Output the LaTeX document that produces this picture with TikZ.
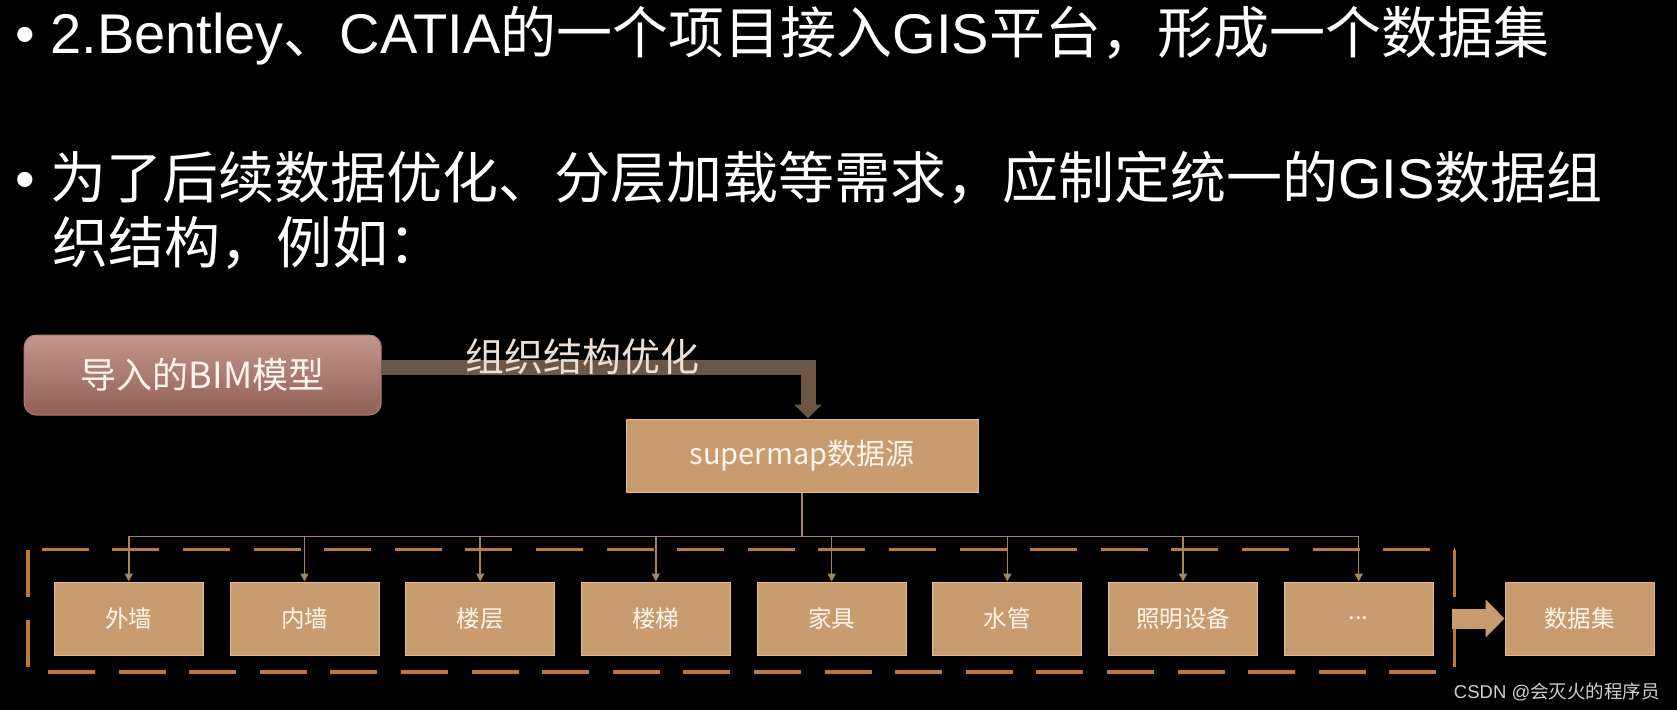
\documentclass[tikz,border=0pt]{standalone}
\usepackage{fontspec}
\setmainfont{Liberation Sans}
\newfontfamily\cjk{Noto Sans CJK SC}
\usetikzlibrary{arrows.meta}

\definecolor{bimtop}{HTML}{C4968B}
\definecolor{bimbot}{HTML}{905F56}
\definecolor{bimedge}{HTML}{B27D72}
\definecolor{boxtan}{HTML}{C99C6F}
\definecolor{tanedge}{HTML}{DCBD98}
\definecolor{dashorange}{HTML}{C0773A}
\definecolor{flowbrown}{HTML}{6D5643}
\definecolor{linktan}{HTML}{A9855F}
\definecolor{boxtext}{HTML}{FDF5EC}
\definecolor{optext}{HTML}{EDDFD6}
\definecolor{wmgray}{HTML}{CFCFCF}

\newcommand\moredots{...}

\tikzset{
  headline/.style={anchor=base west, text=white, inner sep=0pt, font=\fontsize{56}{60}\selectfont},
  tanbox/.style={draw=tanedge, line width=1pt, fill=boxtan, text=boxtext, inner sep=0pt,
    font=\cjk\fontsize{23.5}{28}\selectfont, minimum width=149pt, minimum height=73pt},
  link/.style={linktan, line width=1.5pt, -{Triangle[width=8pt,length=8pt]}},
  grpdash/.style={dashorange, line width=3.5pt, dash pattern=on 47pt off 23.6pt},
}

\begin{document}
\begin{tikzpicture}[x=1pt,y=-1pt]
\path[use as bounding box, fill=black] (0,0) rectangle (1677,710);

\node[headline] (l1) at (15,53) {• 2.Bentley{\cjk 、}CATIA{\cjk 的一个项目接入}GIS{\cjk 平台，形成一个数据集}};
\node[headline] (l2) at (15,198) {• {\cjk 为了后续数据优化、分层加载等需求，应制定统一的}GIS{\cjk 数据组}};
\node[headline] (l3) at (52,263) {\cjk 织结构，例如：};

\node[draw=bimedge, line width=1pt, rounded corners=12pt, top color=bimtop, bottom color=bimbot,
  minimum width=357pt, minimum height=80pt, text=boxtext, font=\cjk\fontsize{36}{40}\selectfont] (bim) at (202.7,375) {导入的BIM模型};
\node[tanbox, minimum width=352pt, font=\cjk\fontsize{29}{34}\selectfont] (sm) at (802,455.5) {supermap数据源};

\draw[flowbrown, line width=15pt, -{Triangle[width=27pt,length=14pt]}] ([yshift=7.5pt]bim.east) -| ([xshift=6pt]sm.north);
\node[text=optext, inner sep=0pt, font=\cjk\fontsize{39}{42}\selectfont] (opt) at (582.5,356.5) {组织结构优化};

% dashed group round the layers
\node[minimum width=1426pt, minimum height=122pt, inner sep=0pt] (grp) at (741.2,610.9) {};
\draw[grpdash, dash phase=56.9pt] (grp.north west) -- (grp.north east);
\draw[grpdash, dash phase=50.6pt] (grp.south west) -- (grp.south east);
\draw[grpdash] (grp.north west) -- (grp.south west);
\draw[grpdash] (grp.north east) -- (grp.south east);

\foreach \lbl [count=\i from 0] in {外墙,内墙,楼层,楼梯,家具,水管,照明设备,\moredots}
  \node[tanbox] (it\i) at ({128.8+175.7*\i},618.5) {\lbl};

\coordinate (bus) at (0,536.7);
\foreach \i in {0,...,7}
  \draw[link] (sm.south) -- (sm.south |- bus) -| (it\i.north);

\node[tanbox] (ds) at (1579.5,618.5) {数据集};
\draw[boxtan, line width=20pt, -{Triangle[width=37pt,length=19pt]}] ([xshift=-2pt]grp.east |- ds.west) -- (ds.west);

\node[anchor=base east, text=wmgray, inner sep=0pt, font=\fontsize{18.5}{20}\selectfont] (wm) at (1660,698) {CSDN @{\cjk 会灭火的程序员}};
\end{tikzpicture}
\end{document}
